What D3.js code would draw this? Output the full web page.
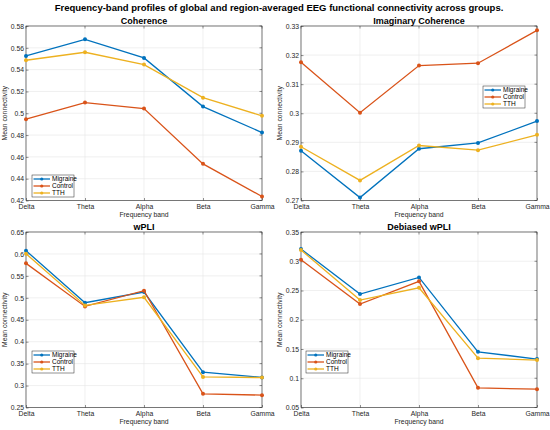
<!DOCTYPE html>
<html><head><meta charset="utf-8">
<script src="https://cdn.jsdelivr.net/npm/d3@7"></script>
<style>body{margin:0;background:#fff;} svg{display:block;font-family:"Liberation Sans",Arial,sans-serif;}</style>
</head><body>
<svg id="c" width="550" height="430"></svg>
<script>
const bands = ["Delta","Theta","Alpha","Beta","Gamma"];
const groups = ["Migraine","Control","TTH"];
const colors = ["#0072BD","#D95319","#EDB120"];

const cohMigraine = [0.5525,0.5678,0.5507,0.5061,0.4823];
const cohControl  = [0.4945,0.5098,0.5043,0.4536,0.4237];
const cohTTH      = [0.5486,0.5559,0.5446,0.5143,0.4976];

const icohMigraine = [0.2871,0.2710,0.2878,0.2898,0.2973];
const icohControl  = [0.3175,0.3002,0.3164,0.3172,0.3285];
const icohTTH      = [0.2885,0.2769,0.2889,0.2873,0.2926];

const wpliMigraine = [0.6074,0.4888,0.5131,0.3306,0.3184];
const wpliControl  = [0.5785,0.4804,0.5162,0.2812,0.2782];
const wpliTTH      = [0.6006,0.4827,0.5012,0.3198,0.3182];

const dwpliMigraine = [0.3209,0.2439,0.2724,0.1452,0.1327];
const dwpliControl  = [0.3027,0.2268,0.2656,0.0836,0.0813];
const dwpliTTH      = [0.3192,0.2336,0.2547,0.1344,0.1310];

const cohTicks = [0.42,0.44,0.46,0.48,0.5,0.52,0.54,0.56,0.58];
const icohTicks = [0.27,0.28,0.29,0.3,0.31,0.32,0.33];
const wpliTicks = [0.25,0.3,0.35,0.4,0.45,0.5,0.55,0.6,0.65];
const dwpliTicks = [0.05,0.1,0.15,0.2,0.25,0.3,0.35];

const panels = [
  {title:"Coherence", series:[cohMigraine,cohControl,cohTTH], ticks:cohTicks, domain:[0.42,0.58],
   box:{x0:26,x1:262,y0:26,y1:200.5}, legend:{x:32,y:175}},
  {title:"Imaginary Coherence", series:[icohMigraine,icohControl,icohTTH], ticks:icohTicks, domain:[0.27,0.33],
   box:{x0:301,x1:537,y0:26,y1:200.5}, legend:{x:483,y:86}},
  {title:"wPLI", series:[wpliMigraine,wpliControl,wpliTTH], ticks:wpliTicks, domain:[0.25,0.65],
   box:{x0:26,x1:262,y0:232,y1:407.5}, legend:{x:32,y:351}},
  {title:"Debiased wPLI", series:[dwpliMigraine,dwpliControl,dwpliTTH], ticks:dwpliTicks, domain:[0.05,0.35],
   box:{x0:301,x1:537,y0:232,y1:407.5}, legend:{x:31+275,y:351}}
];

const svg = d3.select("#c");
svg.append("text").attr("x",279).attr("y",11).attr("text-anchor","middle")
  .attr("font-size",9.5).attr("font-weight","bold").attr("fill","#000")
  .text("Frequency-band profiles of global and region-averaged EEG functional connectivity across groups.");

panels.forEach(p=>{
  const b=p.box;
  const x=d3.scalePoint().domain(bands).range([b.x0,b.x1]);
  const y=d3.scaleLinear().domain(p.domain).range([b.y1,b.y0]);
  const g=svg.append("g");
  // grid
  g.selectAll(".gx").data(bands).enter().append("line")
    .attr("x1",d=>x(d)).attr("x2",d=>x(d)).attr("y1",b.y0).attr("y2",b.y1)
    .attr("stroke","#e6e6e6").attr("stroke-width",0.6);
  g.selectAll(".gy").data(p.ticks).enter().append("line")
    .attr("x1",b.x0).attr("x2",b.x1).attr("y1",d=>y(d)).attr("y2",d=>y(d))
    .attr("stroke","#e6e6e6").attr("stroke-width",0.6);
  // axes
  const ax=g.append("g").attr("transform",`translate(0,${b.y1})`)
    .call(d3.axisBottom(x).tickSize(-2.5).tickPadding(3.5));
  const ay=g.append("g").attr("transform",`translate(${b.x0},0)`)
    .call(d3.axisLeft(y).tickValues(p.ticks).tickSize(-2.5).tickPadding(2).tickFormat(d=>String(+d.toFixed(3))));
  [ax,ay].forEach(a=>{
    a.select(".domain").remove();
    a.selectAll("line").attr("stroke","#262626").attr("stroke-width",0.5);
    a.selectAll("text").attr("font-size",6.8).attr("fill","#262626").attr("font-family","Liberation Sans, Arial, sans-serif");
  });
  ax.selectAll("text").attr("dy","0.71em");
  // top/right ticks
  g.selectAll(".tt").data(bands).enter().append("line")
    .attr("x1",d=>x(d)).attr("x2",d=>x(d)).attr("y1",b.y0).attr("y2",b.y0+2.5).attr("stroke","#262626").attr("stroke-width",0.5);
  g.selectAll(".tr").data(p.ticks).enter().append("line")
    .attr("x1",b.x1).attr("x2",b.x1-2.5).attr("y1",d=>y(d)).attr("y2",d=>y(d)).attr("stroke","#262626").attr("stroke-width",0.5);
  g.append("rect").attr("x",b.x0).attr("y",b.y0).attr("width",b.x1-b.x0).attr("height",b.y1-b.y0)
    .attr("fill","none").attr("stroke","#262626").attr("stroke-width",0.6);
  // titles
  g.append("text").attr("x",(b.x0+b.x1)/2).attr("y",b.y0-2.5).attr("text-anchor","middle")
    .attr("font-size",9).attr("font-weight","bold").attr("fill","#000").text(p.title);
  g.append("text").attr("x",(b.x0+b.x1)/2).attr("y",b.y1+16.5).attr("text-anchor","middle")
    .attr("font-size",6.8).attr("fill","#262626").text("Frequency band");
  g.append("text").attr("transform",`translate(${b.x0-19},${(b.y0+b.y1)/2}) rotate(-90)`).attr("text-anchor","middle")
    .attr("font-size",6.8).attr("fill","#262626").text("Mean connectivity");
  // lines
  const line=d3.line().x((d,i)=>x(bands[i])).y(d=>y(d));
  p.series.forEach((s,k)=>{
    g.append("path").datum(s).attr("d",line).attr("fill","none").attr("stroke",colors[k]).attr("stroke-width",1.3);
    g.selectAll(".m"+k).data(s).enter().append("circle")
      .attr("cx",(d,i)=>x(bands[i])).attr("cy",d=>y(d)).attr("r",2).attr("fill",colors[k]);
  });
  // legend
  const L=p.legend, lw=42, lh=22;
  const lg=g.append("g").attr("transform",`translate(${L.x},${L.y})`);
  lg.append("rect").attr("width",lw).attr("height",lh).attr("fill","#fff").attr("stroke","#262626").attr("stroke-width",0.5);
  groups.forEach((nm,k)=>{
    const yy=4+k*7;
    lg.append("line").attr("x1",1.5).attr("x2",18).attr("y1",yy).attr("y2",yy).attr("stroke",colors[k]).attr("stroke-width",1.3);
    lg.append("circle").attr("cx",9.75).attr("cy",yy).attr("r",1.6).attr("fill",colors[k]);
    lg.append("text").attr("x",20).attr("y",yy).attr("dy","0.35em").attr("font-size",6.5).attr("fill","#000").text(nm);
  });
});
</script>
</body></html>
